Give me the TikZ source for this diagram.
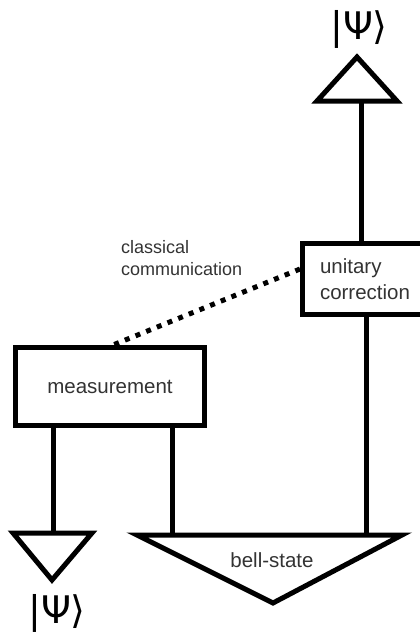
\documentclass[tikz,border=0pt]{standalone}
\usepackage{fontspec}
\setmainfont{Liberation Sans}
\newfontfamily\ketfont{DejaVu Sans}
\usetikzlibrary{calc}

\newcommand{\psiket}{|Ψ⟩}

\tikzset{
  block/.style={draw, rectangle, line width=5pt, inner sep=0pt},
  wire/.style={line width=5pt},
  tri/.style={line width=5pt, line join=miter},
  classic/.style={line width=5pt, dash pattern=on 5pt off 6.5pt},
  ket/.style={font=\ketfont\fontsize{38}{38}\selectfont, inner sep=0pt},
  lbl/.style={inner sep=0pt, text=black!80},
}

\begin{document}
\begin{tikzpicture}[x=1pt, y=-1pt]
  \useasboundingbox (0,0) rectangle (420,633);

  % boxes
  \begin{scope}[every node/.style={block, text=black!80, font=\fontsize{20.5}{26}\selectfont}]
    \node[minimum width=189pt, minimum height=78pt] (meas) at (110,386.5) {measurement};
    \node[minimum width=137pt, minimum height=71pt, align=left, text width=102pt] (corr) at (371,279) {unitary\\correction};
  \end{scope}

  % output triangle (top)
  \coordinate (outA) at (357,57);
  \coordinate (outL) at (317,101);
  \coordinate (outR) at (397,101);
  \coordinate (outW) at (361,101);
  \draw[tri] (outA) -- (outL) -- (outR) -- cycle;

  % input triangle (bottom left)
  \coordinate (inA) at (52,580);
  \coordinate (inL) at (13,533);
  \coordinate (inR) at (92,533);
  \coordinate (inW) at (53,533);
  \draw[tri] (inA) -- (inL) -- (inR) -- cycle;

  % bell pair
  \coordinate (bellA) at (273,603);
  \coordinate (bellL) at (137,535);
  \coordinate (bellR) at (402,535);
  \coordinate (bellW1) at (172,535);
  \coordinate (bellW2) at (366,535);
  \draw[tri] (bellA) -- (bellL) -- (bellR) -- cycle;

  % wires
  \draw[wire] (outW) -- (outW |- corr.north);
  \draw[wire] (corr.south -| bellW2) -- (bellW2);
  \draw[wire] (meas.south -| inW) -- (inW);
  \draw[wire] (meas.south -| bellW1) -- (bellW1);
  \draw[classic] (corr.172) -- ($(meas.north)+(3,0)$);

  % labels
  \node[ket] (ketOut) at (359,29) {\psiket};
  \node[ket] (ketIn) at (57,613) {\psiket};
  \node[lbl, anchor=base] (bell) at (272,567) {\fontsize{20.5}{24}\selectfont bell-state};
  \node[lbl, anchor=base west, align=left, font=\fontsize{18}{22}\selectfont] (chan) at (121,275) {classical\\communication};
\end{tikzpicture}
\end{document}
